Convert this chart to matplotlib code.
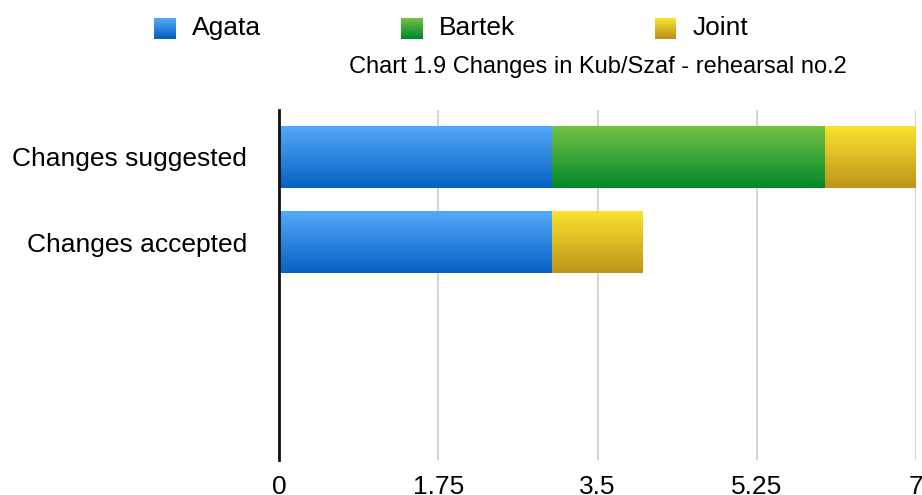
import numpy as np
import matplotlib
matplotlib.use("Agg")
import matplotlib.pyplot as plt
import matplotlib.patches as patches

plt.rcParams["font.family"] = ["Liberation Sans", "DejaVu Sans"]

categories = ["Changes suggested", "Changes accepted"]
series_names = ["Agata", "Bartek", "Joint"]
agata = [3, 3]
bartek = [3, 0]
joint = [1, 1]
x_ticks = [0, 1.75, 3.5, 5.25, 7]
tick_labels = ["0", "1.75", "3.5", "5.25", "7"]

# top / bottom colour of each gradient
grad_colors = [("#53a9f9", "#0761c1"), ("#73c147", "#02892a"), ("#fbe22d", "#be951a")]


def blend(top, bottom, t):
    c1 = np.array(matplotlib.colors.to_rgb(top))
    c2 = np.array(matplotlib.colors.to_rgb(bottom))
    return c1 * (1 - t) + c2 * t


def gradient_fill(ax, bar, top, bottom):
    x0, y0 = bar.get_x(), bar.get_y()
    w, h = bar.get_width(), bar.get_height()
    if w <= 0:
        return
    t = np.linspace(0, 1, 64)[:, None]
    img = blend(top, bottom, t)[:, None, :]
    # y axis is inverted, so the top edge is y0
    ax.imshow(img, extent=(x0, x0 + w, y0 + h, y0), aspect="auto",
              interpolation="bilinear", zorder=2)
    bar.set_visible(False)


class GradientHandle:
    def __init__(self, top, bottom):
        self.top, self.bottom = top, bottom


class GradientHandler:
    def legend_artist(self, legend, orig_handle, fontsize, handlebox):
        x0, y0 = handlebox.xdescent, handlebox.ydescent - 3.5  # nudge down to text middle
        w, h = handlebox.width, handlebox.height
        n = 20
        for i in range(n):
            c = blend(orig_handle.top, orig_handle.bottom, i / (n - 1))
            r = patches.Rectangle((x0, y0 + h - (i + 1) * h / n), w, h / n + 0.3,
                                  facecolor=c, edgecolor="none",
                                  transform=handlebox.get_transform())
            handlebox.add_artist(r)
        return r


fig = plt.figure(figsize=(9.22, 4.95), dpi=100)
ax = fig.add_axes([279 / 922, 1 - 460 / 495, (916 - 279) / 922, (460 - 110) / 495])

y = np.arange(len(categories))
left = np.zeros(len(categories))
for vals, (top, bottom) in zip([agata, bartek, joint], grad_colors):
    bars = ax.barh(y, vals, left=left, height=0.72, zorder=2)
    for b in bars:
        gradient_fill(ax, b, top, bottom)
    left += np.array(vals)

ax.set_xlim(0, 7)
ax.set_ylim(3.55, -0.55)
ax.set_xticks(x_ticks)
ax.set_xticklabels(tick_labels, fontsize=19)
ax.set_yticks(y)
ax.set_yticklabels(categories, fontsize=19)
ax.tick_params(axis="both", length=0)
ax.tick_params(axis="x", pad=11)
ax.tick_params(axis="y", pad=23)
ax.grid(axis="x", color="#cccccc", linewidth=1.2, zorder=0)
for s in ["top", "right", "bottom"]:
    ax.spines[s].set_visible(False)
ax.spines["left"].set_linewidth(2)
ax.spines["left"].set_color("#111111")
ax.spines["left"].set_zorder(3)

handles = [GradientHandle(t, b) for t, b in grad_colors]
fig.legend(handles, series_names, handler_map={GradientHandle: GradientHandler()},
           loc="center", bbox_to_anchor=(451 / 922, 1 - 28 / 495),
           ncol=3, frameon=False, fontsize=19, handlelength=0.83, handleheight=0.83,
           handletextpad=0.6, columnspacing=5.3)

fig.text(598 / 922, 1 - 67 / 495, "Chart 1.9 Changes in Kub/Szaf - rehearsal no.2",
         ha="center", va="center", fontsize=17)

fig.savefig("out.png", dpi=100)
